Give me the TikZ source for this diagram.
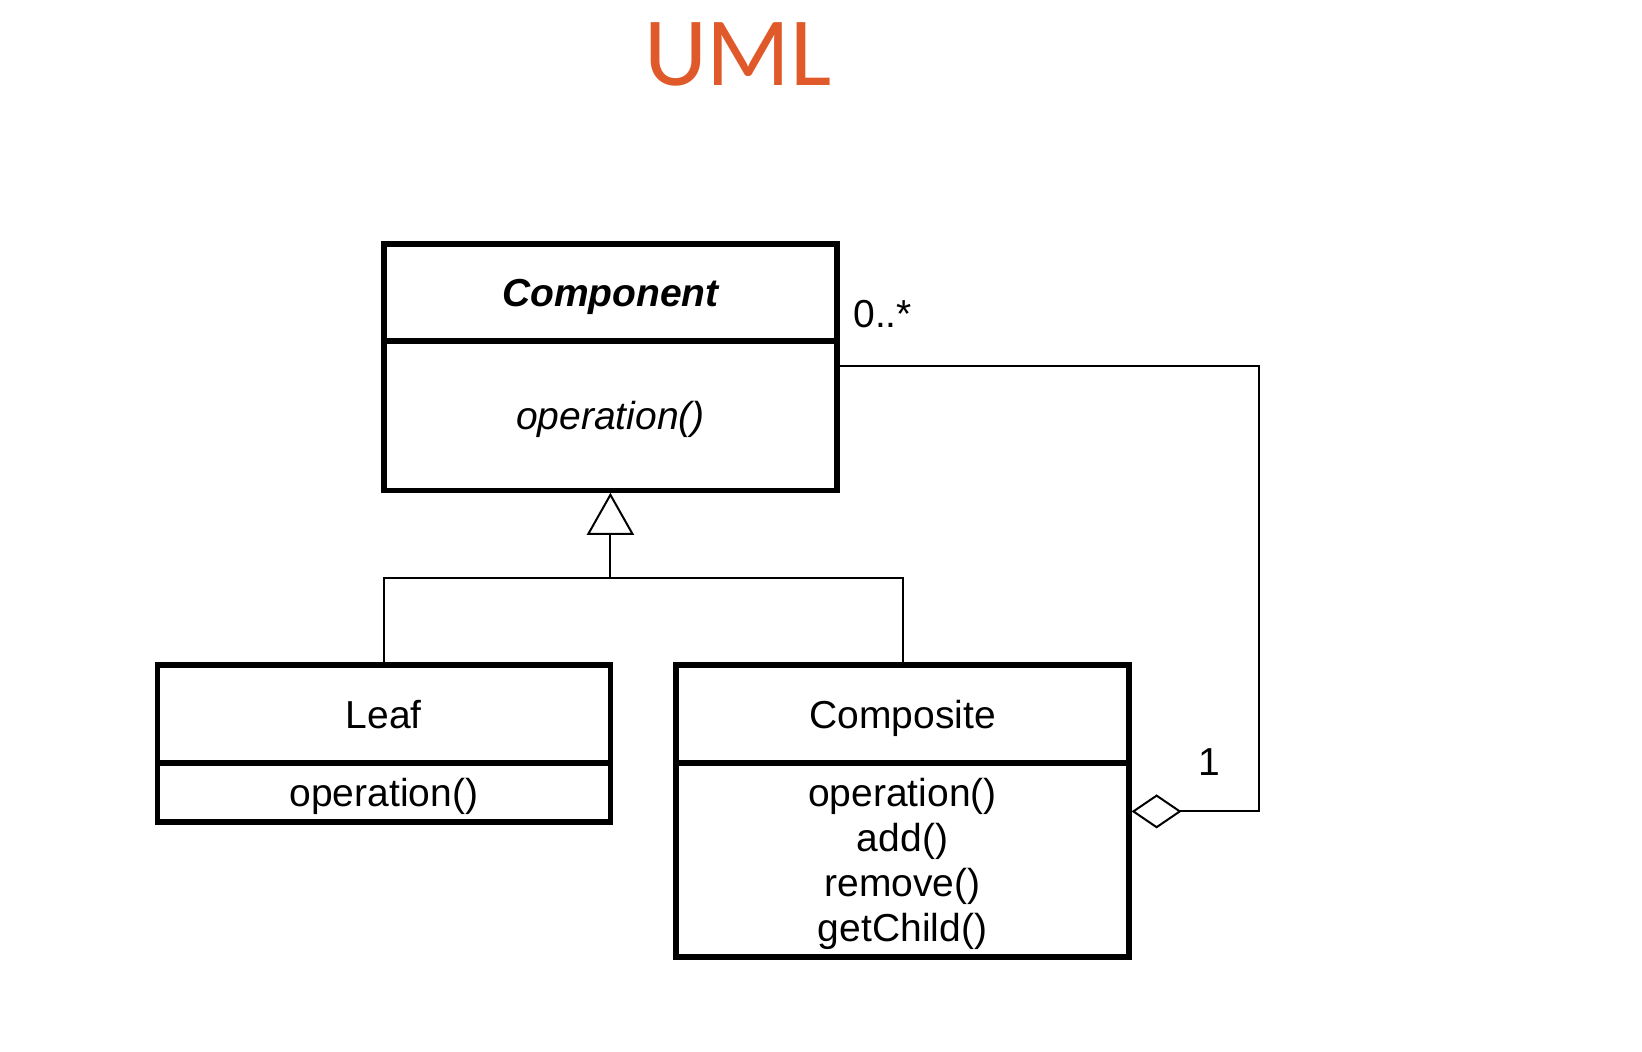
\documentclass[tikz,border=0pt]{standalone}
\usepackage{fontspec}
\setmainfont{Liberation Sans}
\newfontfamily\titlefont{Carlito}
\usetikzlibrary{arrows.meta}
\definecolor{umlorange}{RGB}{224,89,42}
\tikzset{
  classbox/.style={draw, line width=2.6pt, minimum width=226.5pt, inner sep=0pt, text depth=0pt, align=center, font=\fontsize{19.5}{22.5}\selectfont},
  link/.style={line width=1pt},
  mult/.style={inner sep=0pt, font=\fontsize{19.5}{22.5}\selectfont},
}

\begin{document}
\begin{tikzpicture}[x=0.5pt,y=-0.5pt]
        \useasboundingbox (0,0) rectangle (1642,1052);
        % title
        \node[font=\titlefont\fontsize{49}{49}\selectfont, text=umlorange] (title) at (738,54) {UML};

        % component
        \node[classbox, minimum height=48.5pt] (comphead) at (610.4,292.6) {\bfseries\itshape Component};
        \node[classbox, minimum height=74.5pt] (compbody) at (610.4,415.7) {\itshape operation()};
        % leaf
        \node[classbox, minimum height=49pt] (leafhead) at (383.8,714) {Leaf};
        \node[classbox, minimum height=29.5pt] (leafbody) at (383.8,792.5) {operation()};
        % composite
        \node[classbox, minimum height=49pt] (comphead2) at (902.5,714) {Composite};
        \node[classbox, minimum height=97pt] (compbody2) at (902.5,860) {operation()\\add()\\remove()\\getChild()};

        % inheritance
        \coordinate (joint) at (610.4,578);
        \draw[link] (leafhead.north) |- (joint) -| (comphead2.north);
        \draw[link, -{Triangle[open, length=21pt, width=23.5pt]}] (joint) -- (compbody.south);

        % aggregation
        \coordinate (aggtop) at (1258.5,366.5);
        \coordinate (aggbottom) at (1258.5,811.4);
        \draw[link, {Diamond[open, length=25pt, width=17pt]}-] (compbody2.east |- aggbottom) -- (aggbottom) -- (aggtop) -- (compbody.east |- aggtop);

        % text
        \node[mult, anchor=west] (many) at (853,314) {0..*};
        \node[mult] (one) at (1209,762) {1};
    \end{tikzpicture}
\end{document}
